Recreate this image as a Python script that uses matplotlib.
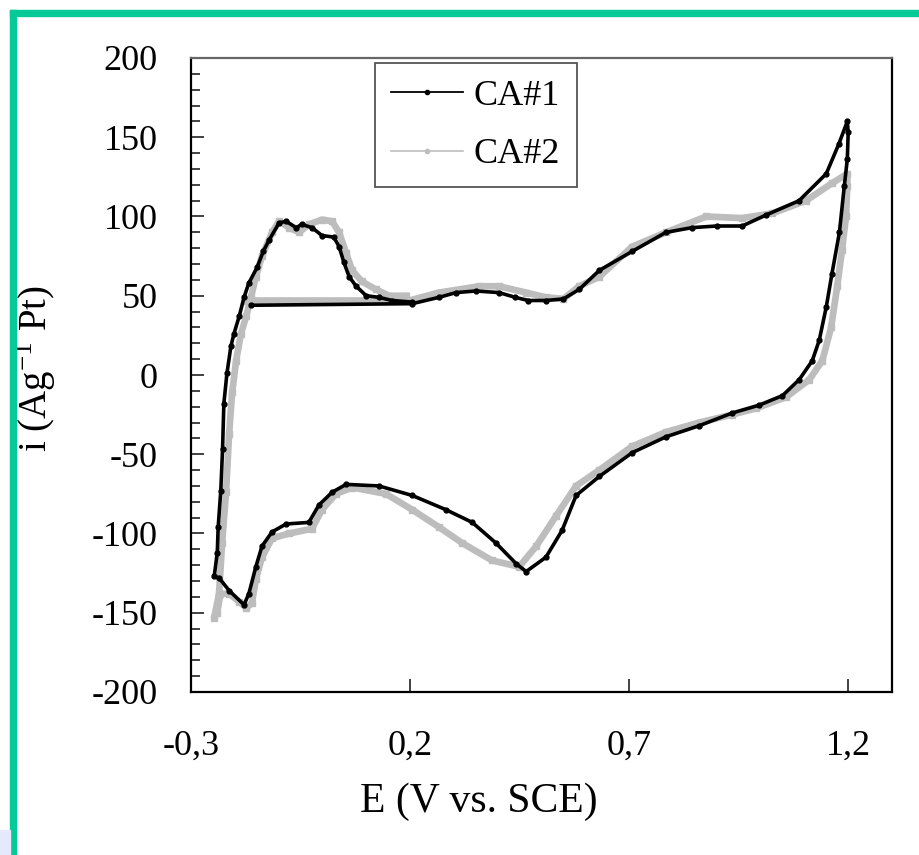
import matplotlib
matplotlib.use("Agg")
import matplotlib.pyplot as plt
from matplotlib.lines import Line2D
from matplotlib.patches import Rectangle

plt.rcParams['font.family'] = ['Liberation Serif', 'DejaVu Serif']
plt.rcParams['mathtext.fontset'] = 'custom'
plt.rcParams['mathtext.rm'] = 'Liberation Serif'
plt.rcParams['axes.unicode_minus'] = False

# ---- data: E (V vs. SCE), i (A/g Pt) ----
E1 = [-0.163, 0.205,
      0.266, 0.305, 0.35, 0.403, 0.44, 0.47, 0.51, 0.55, 0.586, 0.632, 0.707,
      0.784, 0.844, 0.9, 0.958, 1.013, 1.088, 1.15, 1.179, 1.198,
      1.2, 1.198, 1.191, 1.18, 1.163, 1.15, 1.134, 1.118, 1.088, 1.05, 0.997,
      0.935, 0.86, 0.784, 0.707, 0.632, 0.579, 0.547, 0.51, 0.465, 0.442,
      0.396, 0.342, 0.282, 0.205, 0.129, 0.054, 0.022, -0.008, -0.031, -0.083,
      -0.115, -0.138, -0.152, -0.168, -0.179, -0.213, -0.236, -0.247,
      -0.24, -0.238, -0.232, -0.228, -0.225, -0.218, -0.209, -0.202, -0.19,
      -0.179, -0.168, -0.149, -0.135, -0.122, -0.099, -0.083, -0.06, -0.047,
      -0.024, -0.001, 0.026, 0.038, 0.049, 0.061, 0.077, 0.1, 0.129, 0.159, 0.205]
I1 = [44, 45,
      49, 52, 53, 52, 49, 47, 47, 48, 54, 66, 78,
      90, 93, 94, 94, 101, 110, 127, 146, 160,
      153, 136, 119, 90, 64, 43, 22, 9, -3, -13, -19,
      -24, -32, -39, -49, -64, -76, -98, -115, -124, -119,
      -106, -93, -85, -76, -70, -69, -74, -82, -93, -94,
      -99, -108, -121, -138, -145, -136, -128, -127,
      -112, -96, -73, -47, -18, 1, 18, 26, 37,
      49, 58, 68, 78, 85, 96, 97, 93, 95,
      93, 88, 87, 81, 71, 62, 56, 50, 49, 47, 46]

E2 = [-0.174, 0.198,
      0.266, 0.358, 0.403, 0.465, 0.51, 0.55, 0.586, 0.632, 0.707, 0.784,
      0.876, 0.958, 1.027, 1.104, 1.163, 1.198,
      1.198, 1.195, 1.186, 1.175, 1.161, 1.141, 1.111, 1.058, 0.99, 0.935,
      0.86, 0.784, 0.707, 0.632, 0.579, 0.533, 0.488, 0.449, 0.387, 0.319,
      0.266, 0.205, 0.145, 0.068, 0.031, -0.001, -0.024, -0.076, -0.115,
      -0.138, -0.152, -0.161, -0.174, -0.19, -0.213, -0.233, -0.24, -0.247,
      -0.236, -0.229, -0.22, -0.213, -0.206, -0.197, -0.186, -0.174, -0.163,
      -0.152, -0.138, -0.115, -0.099, -0.076, -0.053, -0.031, -0.001, 0.022,
      0.038, 0.054, 0.068, 0.09, 0.122, 0.152, 0.191]
I2 = [47, 47,
      52, 56, 56, 52, 49, 48, 56, 62, 81, 90,
      100, 99, 102, 110, 121, 127,
      119, 100, 79, 56, 30, 9, -3, -14, -21, -25,
      -30, -36, -45, -60, -70, -89, -108, -121, -117, -106,
      -96, -85, -75, -71, -75, -85, -97, -100, -103,
      -115, -129, -144, -147, -143, -138, -138, -150, -153,
      -138, -106, -74, -37, -11, 9, 26, 37, 49,
      62, 75, 90, 97, 93, 90, 95, 98, 97,
      90, 77, 66, 59, 54, 50, 50]

labels = ["CA#1", "CA#2"]
x_ticks = [-0.3, 0.2, 0.7, 1.2]
x_ticklabels = ["-0,3", "0,2", "0,7", "1,2"]
y_ticks = [-200, -150, -100, -50, 0, 50, 100, 150, 200]

W, H = 919, 855
fig = plt.figure(figsize=(W / 100, H / 100), dpi=100)
fig.patch.set_facecolor('white')

# green frame (top + left) and tiny blue corner
green = '#05CA98'
fig.patches.append(Rectangle((10 / W, 1 - 16 / H), 1 - 10 / W, 6 / H,
                             transform=fig.transFigure, color=green, zorder=0))
fig.patches.append(Rectangle((10 / W, 0), 6 / W, 1 - 10 / H,
                             transform=fig.transFigure, color=green, zorder=0))
fig.patches.append(Rectangle((0, 0), 10 / W, 25 / H,
                             transform=fig.transFigure, color='#e4eafb', zorder=0))

ax = fig.add_axes([191 / W, 1 - 692 / H, 701 / W, 634 / H])

ax.plot(E2, I2, color='#BDBDBD', lw=4.8, marker='s', ms=4, mec='#BDBDBD', zorder=2)
ax.plot(E1, I1, color='black', lw=2.6, marker='o', ms=3.5, zorder=3)

ax.set_xlim(-0.3, 1.3)
ax.set_ylim(-200, 200)
ax.set_xticks(x_ticks)
ax.set_xticklabels(x_ticklabels)
ax.set_yticks(y_ticks)
ax.set_yticks(range(-200, 201, 10), minor=True)

ax.tick_params(axis='both', which='major', direction='in', length=9.5, width=1.3,
               color='#333333', labelsize=26)
ax.tick_params(axis='y', which='minor', direction='in', length=6.5, width=1.3,
               color='#333333')
ax.tick_params(axis='y', which='both', right=False, pad=24)
ax.tick_params(axis='x', which='both', top=False, pad=27)

for s in ['left', 'bottom', 'right']:
    ax.spines[s].set_linewidth(1.6)
    ax.spines[s].set_color('black')
ax.spines['top'].set_linewidth(1.6)
ax.spines['top'].set_color('#666666')

ax.set_xlabel("E (V vs. SCE)", fontsize=30)
ax.xaxis.set_label_coords(0.411, -0.142)
ax.set_ylabel("i (Ag$^{\\mathregular{-1}}$ Pt)", fontsize=28)
ax.yaxis.set_label_coords(-0.19, 0.51)

handles = [Line2D([], [], color='black', lw=1.3, marker='o', ms=3),
           Line2D([], [], color='#BDBDBD', lw=1.2, marker='o', ms=3)]
leg = ax.legend(handles, labels, loc='upper left', bbox_to_anchor=(0.262, 0.992),
                fontsize=26, frameon=True, fancybox=False, framealpha=1,
                edgecolor='#555555', handlelength=2.0, handletextpad=0.3,
                labelspacing=0.7, borderpad=0.45, borderaxespad=0, numpoints=1)
leg.get_frame().set_linewidth(1.3)

fig.savefig("out.png", dpi=100)
